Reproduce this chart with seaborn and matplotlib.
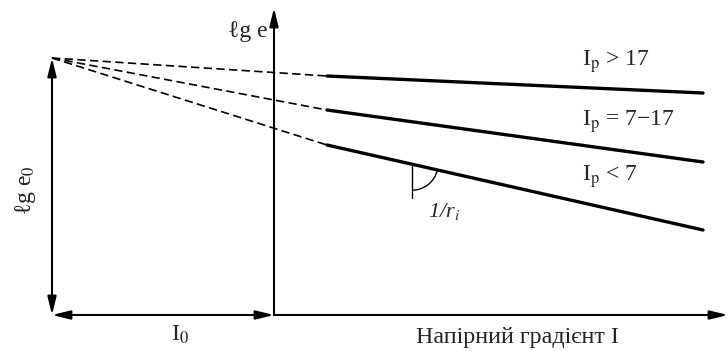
import numpy as np
import pandas as pd
import matplotlib
matplotlib.use("Agg")
import matplotlib.pyplot as plt
from matplotlib.patches import Arc
import seaborn as sns

# ---- schematic data (units: arbitrary, origin at axes crossing) ----
series = ["Ip>17", "Ip=7-17", "Ip<7"]
labels = ["I$_\\mathrm{p}$ > 17", "I$_\\mathrm{p}$ = 7\u221217", "I$_\\mathrm{p}$ < 7"]
pole_x, pole_y = -222, 257          # convergence point (I0, lg e0)
solid_x = [53, 429]                 # start / end of the solid segments
solid_start_y = [239, 205, 170]
solid_end_y = [222, 153, 85]
x_axis_end, y_axis_end = 454, 307

sns.set_theme(style="white")
plt.rcParams["font.family"] = ["Liberation Serif", "DejaVu Serif"]
plt.rcParams["mathtext.fontset"] = "stix"

fig = plt.figure(figsize=(7.28, 3.51), dpi=100)
ax = fig.add_axes([0, 0, 1, 1])
ax.set_xlim(-274, 454)
ax.set_ylim(-36, 315)
ax.axis("off")

# solid segments via seaborn
rows = []
for s, y0, y1 in zip(series, solid_start_y, solid_end_y):
    rows.append({"series": s, "x": solid_x[0], "y": y0})
    rows.append({"series": s, "x": solid_x[1], "y": y1})
df = pd.DataFrame(rows)
sns.lineplot(data=df, x="x", y="y", units="series", estimator=None,
             color="black", lw=2.4, ax=ax, legend=False)

# dashed extrapolations to the pole
drows = []
for s, y0 in zip(series, solid_start_y):
    drows.append({"series": s, "x": pole_x, "y": pole_y})
    drows.append({"series": s, "x": solid_x[0], "y": y0})
ddf = pd.DataFrame(drows)
for s, g in ddf.groupby("series"):
    ax.plot(g["x"], g["y"], color="black", lw=1.2, dashes=(5, 2.6))

# axes arrows
ap = dict(color="black", lw=1.5, shrinkA=0, shrinkB=0)
hs = "head_length=0.9,head_width=0.22"
ax.annotate("", xy=(0, y_axis_end), xytext=(0, 0),
            arrowprops=dict(arrowstyle="-|>," + hs, **ap))
ax.annotate("", xy=(x_axis_end, 0), xytext=(0, 0),
            arrowprops=dict(arrowstyle="-|>," + hs, **ap))
ax.annotate("", xy=(pole_x, 0), xytext=(0, 0),
            arrowprops=dict(arrowstyle="<|-|>," + hs, **ap))
ax.annotate("", xy=(pole_x, 0), xytext=(pole_x, pole_y),
            arrowprops=dict(arrowstyle="<|-|>," + hs, **ap))

# angle mark on lowest line
ax_x = 138
slope = (solid_end_y[2] - solid_start_y[2]) / (solid_x[1] - solid_x[0])
cy = solid_start_y[2] + (ax_x - solid_x[0]) * slope
ang = np.degrees(np.arctan(slope))
ax.plot([ax_x, ax_x], [cy, cy - 34], color="black", lw=1.0)
ax.add_patch(Arc((ax_x, cy), 52, 52, theta1=-90, theta2=ang, color="black", lw=1.0))
ax.text(154, 103, "1/r$_i$", fontsize=16, fontstyle="italic", ha="left", va="center")

# labels
for lab, yy in zip(labels, [253, 193, 138]):
    ax.text(308, yy, lab, fontsize=17, ha="left", va="center")
ax.text(-6, 283, "\u2113g e", fontsize=17, ha="right", va="center")
ax.text(-249, 125, "\u2113g e$_0$", fontsize=17, ha="center", va="center", rotation=90)
ax.text(-94, -20, "I$_0$", fontsize=17, ha="center", va="center")
ax.text(243, -23, "Напірний градієнт I", fontsize=17.3, ha="center", va="center")

fig.savefig("out.png", dpi=100)
